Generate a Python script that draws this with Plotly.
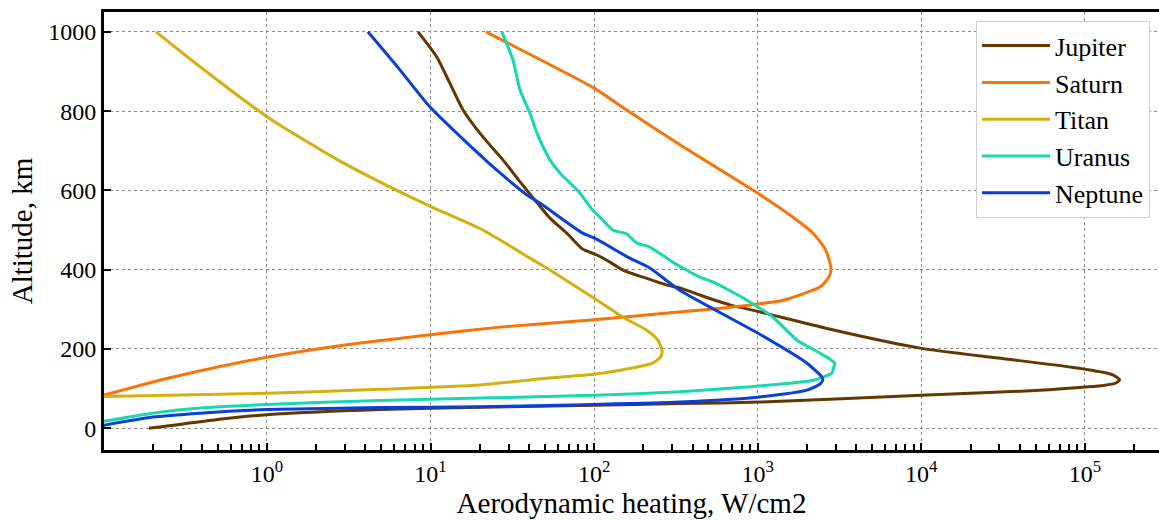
import plotly.graph_objects as go

# ---- data (W/cm2, km) ----
jupiter_q = [8.4, 10.9, 13.1, 15.8, 20.9, 27.7, 35.5, 42, 53.7, 68, 85, 104, 125, 150, 199, 279, 334, 443, 676,
             1040, 2950, 9800, 29500, 83000, 1.4e5, 1.55e5, 1.63e5, 1.55e5, 1.3e5, 1e5, 5e4, 1e4,
             1040, 334, 100, 20, 4.9, 1, 0.5, 0.3, 0.19]
jupiter_h = [1000, 937, 871, 803, 735, 677, 620, 583, 530, 492, 452, 437, 419, 399, 381, 361, 354, 336, 311,
             293, 247, 202, 177, 154, 138, 130, 122, 114, 108, 104, 95, 83,
             66, 62, 58, 53, 47, 34, 22, 10, 0]

saturn_q = [21.8, 51, 100, 158, 350, 1000, 1573, 2180, 2600, 2800, 2780, 2600, 2400, 1430, 700, 270, 96,
            26.6, 10, 3, 1, 0.3, 0.145, 0.1]
saturn_h = [1000, 922, 858, 803, 710, 593, 538, 492, 450, 407, 390, 370, 356, 323, 306, 290, 273,
            255, 236, 210, 179, 134, 101, 83]

titan_q = [0.21, 0.39, 1, 2.53, 6.5, 10.2, 20.9, 40.5, 53.7, 100, 150, 210, 245, 260, 255, 228, 144, 100, 51,
           20, 4.9, 1, 0.1]
titan_h = [1000, 912, 786, 684, 596, 558, 500, 429, 399, 328, 280, 247, 222, 197, 180, 164, 146, 136, 126,
           109, 98, 88, 80]

uranus_q = [27.3, 31.9, 35.2, 40.5, 44.7, 48.7, 53.7, 61.8, 71, 82, 98, 108, 130, 158, 183, 219, 290, 302, 443,
            533, 859, 1240, 1740, 2410, 2960, 2900, 2840, 2180, 859, 334, 100, 20, 4.9, 1, 0.39, 0.2, 0.1]
uranus_h = [1000, 929, 854, 795, 745, 710, 677, 644, 619, 593, 550, 533, 500, 490, 467, 457, 424, 419, 381,
            369, 323, 280, 222, 189, 164, 150, 139, 121, 104, 92, 83, 76, 70, 60, 51, 38, 17]

neptune_q = [4.14, 6.5, 9.9, 16.7, 26.6, 40.5, 46.6, 85, 100, 165, 219, 334, 1000, 2000, 2470, 2500, 2410, 2000,
             1000, 334, 100, 20, 4.9, 1, 0.39, 0.2, 0.1]
neptune_h = [1000, 904, 811, 720, 644, 583, 568, 492, 480, 429, 404, 348, 240, 164, 129, 122, 112, 96,
             78, 66, 60, 54, 52, 47, 38, 28, 7]

names = ["Jupiter", "Saturn", "Titan", "Uranus", "Neptune"]
colors = ["#653700", "#f97306", "#d4b00f", "#17d8b0", "#0a3fdc"]
xs = [jupiter_q, saturn_q, titan_q, uranus_q, neptune_q]
ys = [jupiter_h, saturn_h, titan_h, uranus_h, neptune_h]

major_x = [1, 10, 100, 1000, 10000, 100000]
major_x_text = ["10<sup>0</sup>", "10<sup>1</sup>", "10<sup>2</sup>", "10<sup>3</sup>", "10<sup>4</sup>", "10<sup>5</sup>"]
y_ticks = [0, 200, 400, 600, 800, 1000]

minor_x = [m * 10 ** e for e in range(-1, 6) for m in range(2, 10)]

FONT = "Times New Roman"

fig = go.Figure()
for n, c, x, y in zip(names, colors, xs, ys):
    fig.add_trace(go.Scatter(x=x, y=y, mode="lines", name=n, legendgroup=n,
                             line=dict(color=c, width=3, shape="spline", smoothing=0.6)))

fig.update_layout(
    width=1159, height=521,
    margin=dict(l=104, r=0, t=12, b=71, autoexpand=False),
    paper_bgcolor="white", plot_bgcolor="white",
    font=dict(family=FONT, size=24, color="black"),
    showlegend=True,
    legend=dict(x=0.9915, y=0.979, xanchor="right", yanchor="top",
                bgcolor="white", bordercolor="#d0d0d0", borderwidth=1,
                font=dict(family=FONT, size=26, color="black"), itemwidth=68, tracegroupgap=0),
)

fig.update_xaxes(
    type="log", range=[-0.996, 5.453], automargin=False,
    tickvals=major_x, ticktext=major_x_text,
    ticks="inside", ticklen=7, tickwidth=2, tickcolor="black",
    showline=True, linewidth=3, linecolor="black", mirror=True,
    showgrid=True, gridcolor="#8a8a8a", gridwidth=1, griddash="dot",
    zeroline=False,
    tickfont=dict(family=FONT, size=24, color="black"),
    minor=dict(tickvals=minor_x, ticks="inside", ticklen=6, tickwidth=1.5, tickcolor="black", showgrid=False),
    title=dict(text="Aerodynamic heating, W/cm2", font=dict(family=FONT, size=29, color="black"), standoff=2),
)
fig.update_yaxes(
    range=[-55, 1050], automargin=False,
    tickvals=y_ticks,
    ticks="inside", ticklen=7, tickwidth=2, tickcolor="black",
    showline=True, linewidth=3, linecolor="black",
    showgrid=True, gridcolor="#8a8a8a", gridwidth=1, griddash="dot",
    zeroline=False,
    tickfont=dict(family=FONT, size=24, color="black"),
    title=dict(text="Altitude, km", font=dict(family=FONT, size=29, color="black"), standoff=8),
)

fig.write_html("out.html", config={"displayModeBar": False},
               post_script="document.body.style.margin='0';document.body.style.overflow='hidden';")
